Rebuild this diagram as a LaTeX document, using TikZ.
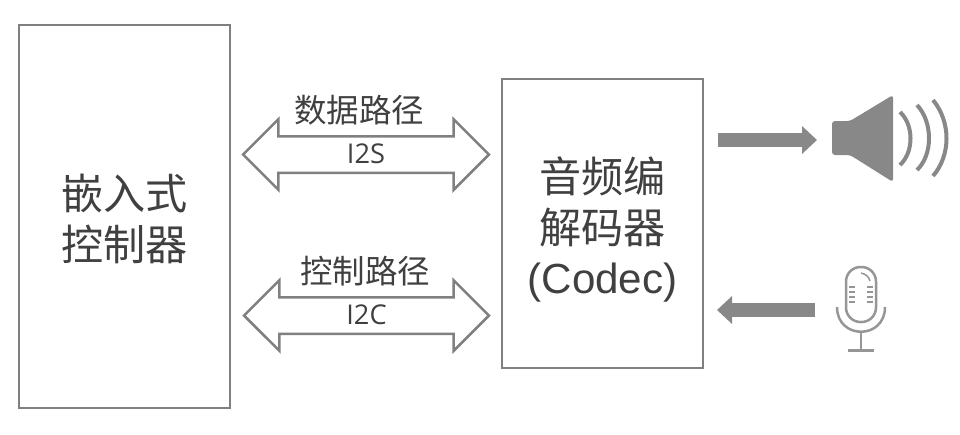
\documentclass[tikz,border=0pt]{standalone}
\usepackage{fontspec}
\setmainfont{Noto Sans CJK SC}
\newfontfamily\latinfont{Liberation Sans}
\newfontfamily\busfont{Open Sans}
\usetikzlibrary{positioning,arrows.meta,shapes.arrows}
\definecolor{linegray}{RGB}{128,128,128}
\definecolor{icongray}{RGB}{136,136,136}
\definecolor{micgray}{RGB}{150,150,150}
\definecolor{textgray}{RGB}{64,64,64}
\tikzset{
  blockbox/.style={draw=linegray,line width=0.05cm,inner sep=0pt,outer sep=0pt},
  blockname/.style={align=center,inner sep=0pt,text=textgray,font=\fontsize{24}{29}\selectfont},
  busarrow/.style={draw=linegray,line width=0.05cm,double arrow,double arrow tip angle=90,double arrow head extend=0.34cm,inner xsep=0pt,inner ysep=0.17cm,text height=0.34cm,text depth=0pt,outer sep=0pt,text=textgray,font=\busfont\fontsize{15.5}{16}\selectfont},
  buslabel/.style={text=textgray,inner sep=0pt,font=\fontsize{18.5}{20}\selectfont},
  flowarrow/.style={draw=icongray,line width=0.29cm,-{Triangle[length=0.3cm,width=0.54cm]}},
  micline/.style={draw=micgray,line width=0.05cm}
}
\begin{document}
\begin{tikzpicture}[x=0.02cm,y=-0.02cm]
  \useasboundingbox (0,0) rectangle (960,434);
  \node[blockbox,minimum width=4.22cm,minimum height=7.66cm] (ctrl) at (124.5,216.5) {};
  \node[blockbox,minimum width=4.02cm,minimum height=5.78cm] (codec) at (602.5,223.5) {};
  \node[blockname,yshift=-0.04cm] (ctrlname) at (ctrl) {嵌入式\\控制器};
  \node[blockname,yshift=-0.12cm] (codecname) at (codec) {音频编\\解码器\\{\latinfont (Codec)}};
  \node[busarrow,minimum height=4.92cm] (datapath) at (366,154.5) {I2S};
  \node[busarrow,minimum height=4.90cm] (ctrlpath) at (366.5,315.5) {I2C};
  \node[buslabel,above=0.22cm of datapath,xshift=-0.14cm] (datalabel) {数据路径};
  \node[buslabel,above=0.22cm of ctrlpath,xshift=-0.03cm] (ctrllabel) {控制路径};
  % speaker
  \coordinate (codecout) at (718,140);
  \coordinate (spkin) at (817,140);
  \draw[flowarrow] (codecout) -- (spkin);
  \fill[icongray,rounded corners=0.06cm] (832,121) -- (850,121) -- (893,95) -- (893,182) -- (850,155) -- (832,155) -- cycle;
  \draw[icongray,line width=0.08cm] (900,112) .. controls (914,125) and (914,152) .. (900,165);
  \draw[icongray,line width=0.08cm] (917,105) .. controls (933,122) and (933,155) .. (917,170);
  \draw[icongray,line width=0.08cm] (933,100) .. controls (951,122) and (951,155) .. (933,176);
  % mic
  \coordinate (micout) at (815,310);
  \coordinate (codecin) at (717,310);
  \draw[flowarrow] (micout) -- (codecin);
  \draw[micline,rounded corners=0.29cm] (846,267) rectangle (876,322);
  \draw[micline] (837,307) .. controls (837,340) and (885,340) .. (885,307);
  \draw[micline] (861,332) -- (861,349);
  \draw[micline,line width=0.06cm] (848,350) -- (874,350);
  \foreach \y in {287,292,297,302} {
    \draw[micline,line width=0.03cm] (849,\y) -- (855,\y);
    \draw[micline,line width=0.03cm] (867,\y) -- (873,\y);
  }
  \draw[micline,line width=0.03cm] (861,273) .. controls (866,274) and (869,277) .. (870,281);
\end{tikzpicture}
\end{document}
